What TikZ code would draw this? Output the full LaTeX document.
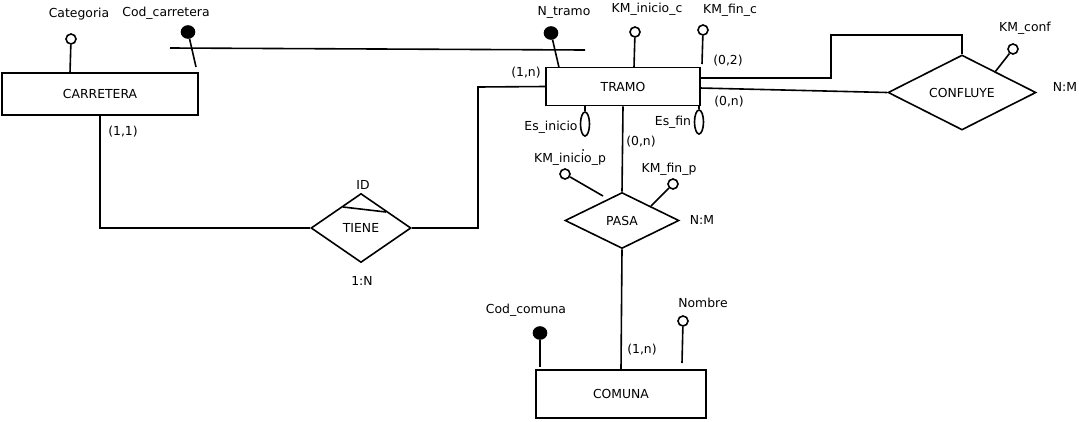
\documentclass[tikz,border=0pt]{standalone}
\usepackage{fontspec}
\setmainfont{DejaVu Sans}
\usetikzlibrary{shapes.geometric}
\begin{document}
\begin{tikzpicture}[x=1pt,y=-1pt, line width=1.6pt,
  every node/.style={font=\fontsize{12.4}{14}\selectfont, inner sep=0pt},
  ent/.style={draw, rectangle},
  rel/.style={draw, diamond},
  attr/.style={draw, circle, minimum size=10pt},
  keyattr/.style={draw, ellipse, fill=black, minimum width=13pt, minimum height=12pt},
  flag/.style={draw, ellipse, minimum width=9pt, minimum height=24pt},
]
\useasboundingbox (0,0) rectangle (1079,421);
% entities
\node[ent, minimum width=196pt, minimum height=42pt] (carretera) at (100,94) {CARRETERA};
\node[ent, minimum width=154pt, minimum height=38pt] (tramo) at (623,86.5) {TRAMO};
\node[ent, minimum width=170pt, minimum height=48pt] (comuna) at (621,394) {COMUNA};
% relationships
\node[rel, minimum width=100pt, minimum height=69pt] (tiene) at (361,228) {TIENE};
\node[rel, minimum width=148pt, minimum height=73pt] (confluye) at (962,92.5) {CONFLUYE};
\node[rel, minimum width=114pt, minimum height=56pt] (pasa) at (622,220.5) {PASA};

% CARRETERA attributes
\node[attr] (cat) at (71,39) {};
\node (catl) at (79,14) {Categoria};
\coordinate (cate) at (70,73);
\draw (cat) -- (cate);
\node[keyattr] (codc) at (188,32) {};
\node (codcl) at (166,13) {Cod\_carretera};
\coordinate (codce) at (196,67);
\draw (codc) -- (codce);
\coordinate (h1) at (170,48);
\coordinate (h2) at (585,50);
\draw (h1) -- (h2);

% TRAMO attributes
\node[keyattr] (nt) at (551,33) {};
\node (ntl) at (564,12) {N\_tramo};
\coordinate (nte) at (559,67.5);
\draw (nt) -- (nte);
\node[attr] (kic) at (635,32) {};
\node (kicl) at (647,9) {KM\_inicio\_c};
\coordinate (kice) at (634,67.5);
\draw (kic) -- (kice);
\node[attr] (kfc) at (703,30) {};
\node (kfcl) at (730,10) {KM\_fin\_c};
\coordinate (kfce) at (702,64);
\draw (kfc) -- (kfce);
\node[flag] (esi) at (585,124) {};
\node (esil) at (551,127) {Es\_inicio};
\draw (esi) -- (esi |- tramo.south);
\coordinate (dot) at (583,150);
\fill (dot) circle (1pt);
\node[flag] (esf) at (699,122) {};
\node (esfl) at (673,122) {Es\_fin};
\draw (esf) -- (esf |- tramo.south);

% cardinalities
\node (c11) at (123,132) {(1,1)};
\node (c1n) at (526,73) {(1,n)};
\node (c02) at (728,61) {(0,2)};
\node (c0n) at (729,102) {(0,n)};
\node (c0n2) at (641,142) {(0,n)};
\node (c1n2) at (642,350) {(1,n)};

% TIENE
\node (idl) at (363,185) {ID};
\coordinate (id1) at (343,207);
\coordinate (id2) at (386,212);
\draw (id1) -- (id2);
\node (tienec) at (362,281) {1:N};
\draw (carretera.south) |- (tiene.west);
\coordinate (tb) at (478,87);
\draw (tiene.east) -| (tb) -- (tramo.west);

% CONFLUYE
\coordinate (u1) at (700,78);
\coordinate (u2) at (831,35);
\draw (u1) -| (u2) -| (confluye.north);
\coordinate (l1) at (700,88);
\draw (l1) -- (confluye.west);
\node[attr] (kcf) at (1013,49) {};
\node (kcfl) at (1025,28) {KM\_conf};
\coordinate (kcfe) at (995,72);
\draw (kcf) -- (kcfe);
\node (confc) at (1065,87) {N:M};

% PASA
\draw (tramo.south) -- (pasa.north);
\draw (pasa.south) -- (comuna.north);
\node[attr] (kip) at (565,174) {};
\node (kipl) at (570,159) {KM\_inicio\_p};
\coordinate (kipe) at (603,196);
\draw (kip) -- (kipe);
\node[attr] (kfp) at (673,184) {};
\node (kfpl) at (669,169) {KM\_fin\_p};
\coordinate (kfpe) at (651,206);
\draw (kfp) -- (kfpe);
\node (pasac) at (702,220) {N:M};

% COMUNA attributes
\node[keyattr] (codm) at (540,333) {};
\node (codml) at (526,310) {Cod\_comuna};
\coordinate (codme) at (540,367);
\draw (codm) -- (codme);
\node[attr] (nom) at (683,321) {};
\node (noml) at (703,303) {Nombre};
\coordinate (nome) at (682,363);
\draw (nom) -- (nome);
\end{tikzpicture}
\end{document}
